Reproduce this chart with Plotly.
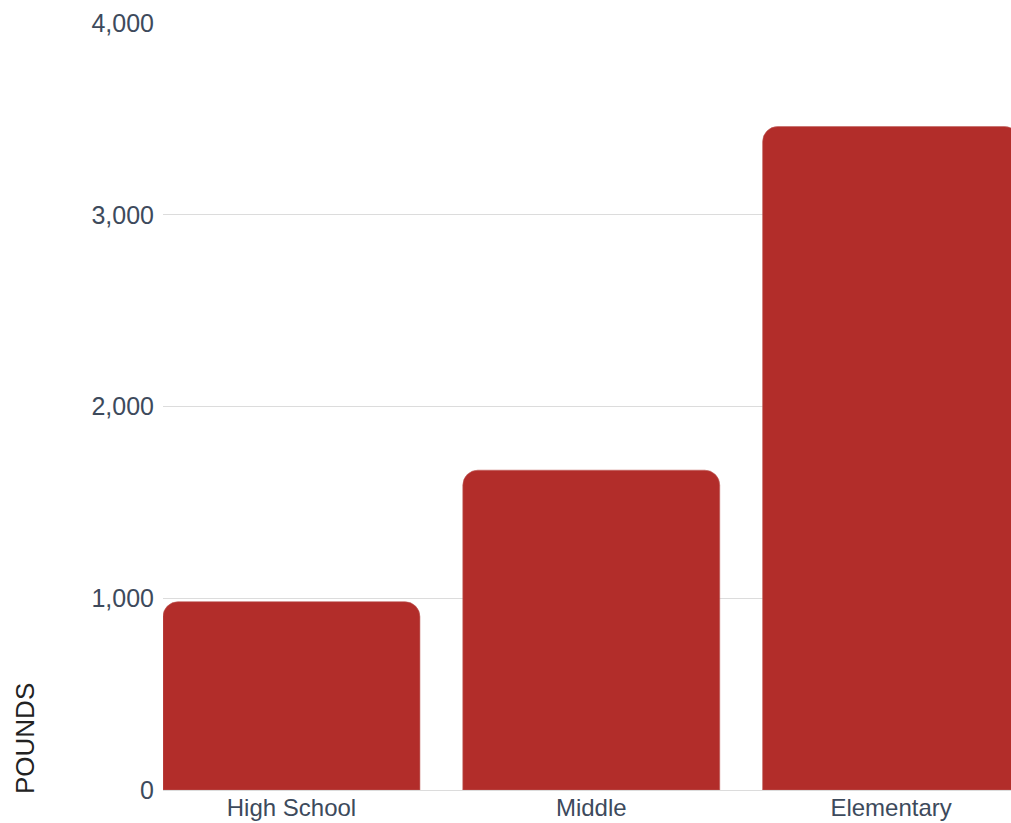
import plotly.graph_objects as go

categories = ["High School", "Middle", "Elementary"]
pounds = [982, 1668, 3460]
y_ticks = [0, 1000, 2000, 3000, 4000]
y_tick_labels = ["0", "1,000", "2,000", "3,000", "4,000"]

W, H = 1011, 823
L, R, T, B = 163, 0, 23, 33

fig = go.Figure(
    go.Bar(
        x=categories,
        y=pounds,
        marker=dict(color="#b22d2a", cornerradius=15,
                    line=dict(color="#c0605c", width=0.6)),
        hoverinfo="skip",
    )
)

fig.update_layout(
    width=W, height=H,
    margin=dict(l=L, r=R, t=T, b=B, pad=0, autoexpand=False),
    paper_bgcolor="white",
    plot_bgcolor="white",
    bargap=0.143,
    showlegend=False,
    font=dict(family="Liberation Sans, Arial, sans-serif", color="#3d4a5c"),
)

fig.update_xaxes(
    type="category",
    range=[-0.4285, 2.4],
    showgrid=False,
    showline=False,
    ticks="",
    tickfont=dict(size=24, color="#3d4a5c"),
    ticklabelstandoff=1,
    automargin=False,
    fixedrange=True,
)

fig.update_yaxes(
    range=[0, 4000],
    tickvals=y_ticks,
    ticktext=y_tick_labels,
    showgrid=True,
    gridcolor="#dcdcdc",
    gridwidth=1,
    zeroline=True,
    zerolinecolor="#dcdcdc",
    zerolinewidth=1,
    showline=False,
    ticks="",
    tickfont=dict(size=25, color="#3d4a5c"),
    ticklabelstandoff=8,
    automargin=False,
    fixedrange=True,
)

plot_w = W - L - R
plot_h = H - T - B
fig.add_annotation(
    text="POUNDS",
    xref="paper", yref="paper",
    x=(25 - L) / plot_w,
    y=(H - B - 739) / plot_h,
    xanchor="center", yanchor="middle",
    textangle=-90,
    showarrow=False,
    font=dict(size=26, color="#222222", family="Liberation Sans, Arial, sans-serif"),
)

fig.write_html(
    "out.html",
    config={"displayModeBar": False, "staticPlot": True},
    post_script="document.body.style.margin='0px';document.body.style.overflow='hidden';",
)
